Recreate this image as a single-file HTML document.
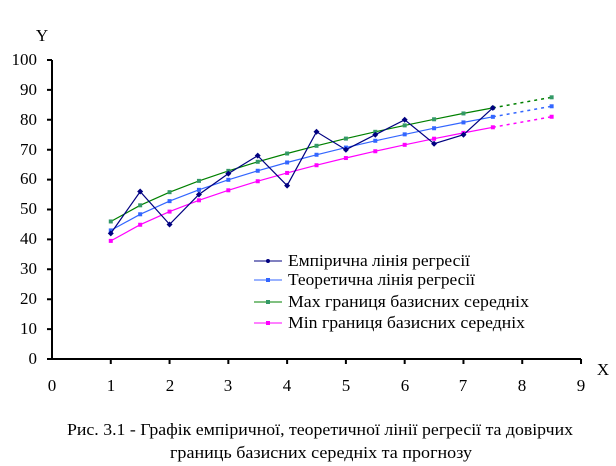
<!DOCTYPE html>
<html><head><meta charset="utf-8">
<style>
html,body{margin:0;padding:0;background:#fff;}
svg{display:block;font-family:"Liberation Serif",serif;}
</style></head>
<body>
<svg id="s" width="616" height="466" viewBox="0 0 616 466" xmlns="http://www.w3.org/2000/svg">
<g font-size="17" fill="#000">
<text x="42" y="41" text-anchor="middle">Y</text>
<text x="603" y="375" text-anchor="middle">X</text>
<g text-anchor="end">
<text x="37" y="364">0</text><text x="37" y="334">10</text><text x="37" y="304">20</text>
<text x="37" y="274">30</text><text x="37" y="244">40</text><text x="37" y="214">50</text>
<text x="37" y="184">60</text><text x="37" y="155">70</text><text x="37" y="125">80</text>
<text x="37" y="95">90</text><text x="37" y="65">100</text>
</g>
<g text-anchor="middle">
<text x="52" y="391">0</text><text x="111" y="391">1</text><text x="170" y="391">2</text>
<text x="228" y="391">3</text><text x="287" y="391">4</text><text x="346" y="391">5</text>
<text x="405" y="391">6</text><text x="463" y="391">7</text><text x="522" y="391">8</text>
<text x="581" y="391">9</text>
</g>
</g>
<g stroke="#000" stroke-width="2" fill="none" id="ax">
<path d="M52,60 V359 H581"/>
</g>
<g id="series"></g>
<g font-size="16.5">
<line x1="254" y1="261" x2="282" y2="261" stroke="#000080"/><circle cx="268" cy="261" r="2" fill="#000080"/>
<text x="288" y="266" textLength="182" lengthAdjust="spacingAndGlyphs">Емпірична лінія регресії</text>
<line x1="254" y1="280" x2="282" y2="280" stroke="#3366ff"/><rect x="266" y="278" width="4" height="4" fill="#3366ff"/>
<text x="288" y="285" textLength="187" lengthAdjust="spacingAndGlyphs">Теоретична лінія регресії</text>
<line x1="254" y1="302" x2="282" y2="302" stroke="#008000"/><rect x="266" y="300" width="4" height="4" fill="#339966"/>
<text x="288" y="307" textLength="241" lengthAdjust="spacingAndGlyphs">Max границя базисних середніх</text>
<line x1="254" y1="323" x2="282" y2="323" stroke="#ff00ff"/><rect x="266" y="321" width="4" height="4" fill="#ff00ff"/>
<text x="288" y="328" textLength="237" lengthAdjust="spacingAndGlyphs">Min границя базисних середніх</text>
</g>
<g font-size="16.5">
<text x="67" y="435" textLength="506" lengthAdjust="spacingAndGlyphs">Рис. 3.1 - Графік емпіричної, теоретичної лінії регресії та довірчих</text>
<text x="170" y="458" textLength="302" lengthAdjust="spacingAndGlyphs">границь базисних середніх та прогнозу</text>
</g>
</svg>
<script>
(function(){
var NS="http://www.w3.org/2000/svg",g=document.getElementById('series'),ax=document.getElementById('ax');
function X(x){return 52+58.78*x;} function Y(v){return 359-2.99*v;}
var t='';
for(var i=1;i<=9;i++){t+='M'+X(i)+',359 v5 ';}
for(var j=0;j<=10;j++){t+='M52,'+Y(j*10)+' h-5 ';}
var p=document.createElementNS(NS,'path');p.setAttribute('d',t);ax.appendChild(p);
var xs=[];for(var k=1;k<=7.5;k+=0.5)xs.push(k);
var emp=[42,56,45,55,62,68,58,76,70,75,80,72,75,84];
function fn(a,x){return a+30.67*(Math.pow(x,0.4)-1);}
function add(a,col,mcol){
  var pts=xs.map(function(x){return [x,fn(a,x)];});
  var d='';pts.forEach(function(p,i){d+=(i?'L':'M')+X(p[0]).toFixed(1)+','+Y(p[1]).toFixed(1);});
  var l=document.createElementNS(NS,'path');l.setAttribute('d',d);l.setAttribute('fill','none');l.setAttribute('stroke',col);l.setAttribute('stroke-width','1.2');g.appendChild(l);
  var ext=[8.5,fn(a,8.5)];
  var e=document.createElementNS(NS,'path');var b=pts[pts.length-1];
  e.setAttribute('d','M'+X(b[0])+','+Y(b[1])+'L'+X(ext[0])+','+Y(ext[1]));e.setAttribute('stroke',col);e.setAttribute('stroke-dasharray','3,4');e.setAttribute('stroke-width','1.5');g.appendChild(e);
  pts.concat([ext]).forEach(function(p){var r=document.createElementNS(NS,'rect');r.setAttribute('x',X(p[0])-2);r.setAttribute('y',Y(p[1])-2);r.setAttribute('width',4);r.setAttribute('height',4);r.setAttribute('fill',mcol);g.appendChild(r);});
}
add(46,'#008000','#339966');
add(43,'#3366ff','#3366ff');
add(39.5,'#ff00ff','#ff00ff');
var ep=xs.map(function(x,i){return [x,emp[i]];});
var d='';ep.forEach(function(p,i){d+=(i?'L':'M')+X(p[0]).toFixed(1)+','+Y(p[1]).toFixed(1);});
var l=document.createElementNS(NS,'path');l.setAttribute('d',d);l.setAttribute('fill','none');l.setAttribute('stroke','#000080');l.setAttribute('stroke-width','1.2');g.appendChild(l);
ep.forEach(function(p){var r=document.createElementNS(NS,'path');var cx=X(p[0]),cy=Y(p[1]);r.setAttribute('d','M'+cx+','+(cy-3)+'L'+(cx+3)+','+cy+'L'+cx+','+(cy+3)+'L'+(cx-3)+','+cy+'Z');r.setAttribute('fill','#000080');g.appendChild(r);});
})();
</script>
</body></html>
